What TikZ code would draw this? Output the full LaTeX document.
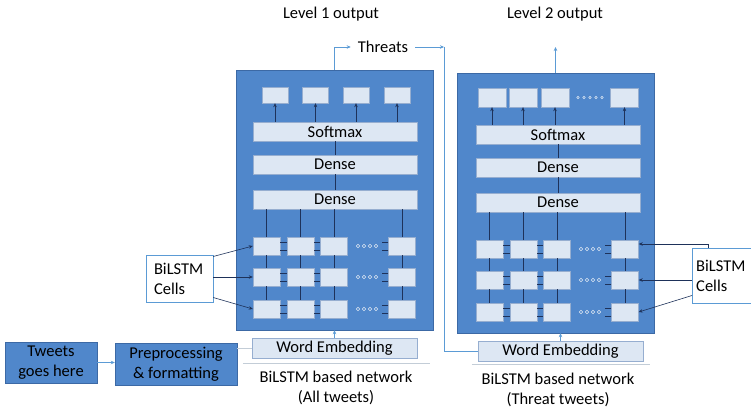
\documentclass[tikz,border=0pt]{standalone}
\usepackage{fontspec}
\setmainfont{Carlito}
\usetikzlibrary{arrows.meta,calc,positioning}

\definecolor{netblue}{RGB}{80,135,203}
\definecolor{netedge}{RGB}{60,105,165}
\definecolor{cellfill}{RGB}{221,231,243}
\definecolor{celledge}{RGB}{150,174,208}
\definecolor{wirecol}{RGB}{30,50,90}
\definecolor{flowcol}{RGB}{91,155,213}
\definecolor{rulecol}{RGB}{195,205,215}

\tikzset{
  net/.style={draw=netedge, fill=netblue, minimum width=197pt, minimum height=260pt, inner sep=0pt},
  layer/.style={draw=celledge, fill=cellfill, minimum width=164pt, minimum height=19pt, inner sep=0pt},
  cell/.style={draw=celledge, fill=cellfill, minimum width=27pt, minimum height=18pt, inner sep=0pt},
  inbox/.style={draw=netedge, fill=netblue, align=center, inner sep=0pt},
  tagbox/.style={draw=flowcol, fill=white, align=left, inner ysep=0pt},
  wire/.style={draw=wirecol, line width=0.6pt},
  tip/.style={wire, -{Stealth[length=4pt,width=3.5pt]}},
  stub/.style={draw=wirecol, line width=0.5pt},
  dot/.style={draw=cellfill, line width=0.6pt},
  flowline/.style={draw=flowcol, line width=0.6pt},
  flowarr/.style={flowline, -{Stealth[length=4pt,width=3.5pt]}},
}

\begin{document}
\begin{tikzpicture}[x=1pt, y=-1pt, font=\fontsize{16.5}{20}\selectfont]
    \useasboundingbox (0,0) rectangle (751,411);

    % The two networks
    \node [net] (net1) at (334.5,200) {};
    \node [net] (net2) at (555.5,203) {};

    % Softmax and dense layers
    \foreach \n/\x/\y in {1/335/131.5, 2/558/134.5} {
        \node [layer] (soft\n) at (\x,\y) {Softmax};
        \node [layer] (densea\n) at (\x,\y+33) {Dense};
        \node [layer] (denseb\n) at (\x,\y+68) {Dense};
        \draw [wire] (soft\n) -- (densea\n) -- (denseb\n);
    }

    % Output units
    \foreach \i/\x in {1/275, 2/315.5, 3/356, 4/397} {
        \node [cell, minimum width=26pt, minimum height=16pt] (out1-\i) at (\x,95) {};
        \draw [tip] (out1-\i.south |- soft1.north) -- (out1-\i.south);
    }
    \foreach \i/\x in {1/492, 2/523, 3/555, 4/624.5} {
        \node [cell, minimum width=28pt, minimum height=19pt] (out2-\i) at (\x,97.5) {};
        \draw [tip] (out2-\i.south |- soft2.north) -- (out2-\i.south);
    }
    \foreach \k in {0,...,4}
        \draw [dot] (578+\k*6,97.5) circle (1.3);

    % BiLSTM cells, three rows per network
    \foreach \n/\x/\y in {1/266.5/246, 2/489.5/249} {
        \foreach \r/\dy in {1/0, 2/31, 3/63} {
            \foreach \c/\dx in {1/0, 2/34, 3/67.5, 4/135.5}
                \node [cell] (b\n-\r\c) at (\x+\dx,\y+\dy) {};
            \foreach \k in {0,...,3}
                \draw [dot] (\x+91.5+\k*6,\y+\dy) circle (1.8);
            \foreach \s in {-4,4} {
                \draw [stub] ([yshift=\s]b\n-\r1.east) -- ([yshift=\s]b\n-\r2.west);
                \draw [stub] ([yshift=\s]b\n-\r2.east) -- ([yshift=\s]b\n-\r3.west);
                \draw [stub] ([yshift=\s]b\n-\r4.west) -- +(-6,0);
            }
        }
        \foreach \c in {1,...,4} {
            \draw [wire] (b\n-1\c.north |- denseb\n.south) -- (b\n-1\c.north);
            \draw [wire] (b\n-1\c) -- (b\n-2\c) -- (b\n-3\c);
        }
    }

    % Word embeddings and captions
    \node [layer, minimum width=165pt, minimum height=20pt] (emb1) at (334.5,348) {Word Embedding};
    \node [layer, minimum width=165pt, minimum height=20pt] (emb2) at (560.5,351) {Word Embedding};
    \draw [flowarr] (emb1.north) -- (emb1.north |- net1.south);
    \draw [flowarr] (emb2.north) -- (emb2.north |- net2.south);
    \draw [rulecol] ([xshift=-9,yshift=-5]emb1.south west) -- ([xshift=13,yshift=-5]emb1.south east);
    \draw [rulecol] ([xshift=-6,yshift=-2.5]emb2.south west) -- ([xshift=7,yshift=-2.5]emb2.south east);
    \node [align=center] (cap1) at (336,388) {BiLSTM based network\\(All tweets)};
    \node [align=center] (cap2) at (558,390) {BiLSTM based network\\(Threat tweets)};

    % Inputs
    \node [inbox, minimum width=92pt, minimum height=41pt] (tweets) at (51,362.5) {Tweets\\goes here};
    \node [inbox, minimum width=122pt, minimum height=42pt] (prep) at (176,364) {Preprocessing\\\& formatting};
    \draw [flowarr] (tweets.east) -- (tweets.east -| prep.west);
    \draw [flowline, draw=rulecol] (prep.east |- emb1.west) -- (emb1.west);

    % Outputs and the threat path
    \node (lvl1) at (331,14) {Level 1 output};
    \node (lvl2) at (555,14) {Level 2 output};
    \node [inner xsep=7pt] (thr) at (383,47) {Threats};
    \coordinate (jn) at (444,47);
    \coordinate (top2) at (net2.north |- thr);
    \draw [flowarr] (net1.north) |- (thr.west);
    \draw [flowarr] (thr.east) -- (jn);
    \draw [flowline] (jn) |- (emb2.west);
    \draw [flowarr] (net2.north) -- (top2);

    % Cell labels
    \node [tagbox, text width=51pt, inner xsep=8pt, minimum height=47pt] (tag1) at (179.5,278.5) {BiLSTM\\Cells};
    \draw [tip] ([yshift=22]tag1.east) -- (b1-11.west);
    \draw [tip] (tag1.east |- b1-21.west) -- (b1-21.west);
    \draw [tip] ([yshift=-19]tag1.east) -- (b1-31.west);
    \node [tagbox, text width=62pt, inner xsep=4pt, minimum height=55pt, anchor=west] (tag2) at (692,275.5) {BiLSTM\\Cells};
    \draw [tip] ([xshift=16]tag2.north west) |- ([yshift=5]b2-14.east);
    \draw [tip] (tag2.west |- b2-24.east) -- (b2-24.east);
    \draw [tip] ([yshift=-20]tag2.west) -- (b2-34.east);
\end{tikzpicture}
\end{document}
